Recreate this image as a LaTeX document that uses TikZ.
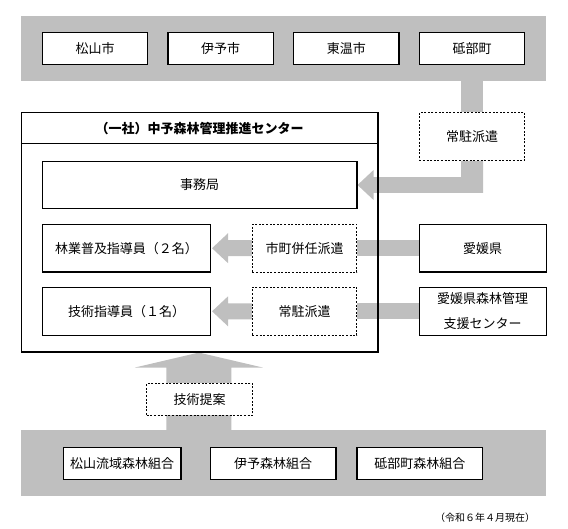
\documentclass[tikz,border=0pt]{standalone}
\usepackage{fontspec}
\setmainfont{Noto Sans CJK JP}
\usetikzlibrary{calc}
\definecolor{bandgray}{RGB}{191,191,191}
\pgfdeclarelayer{bg}
\pgfsetlayers{bg,main}
\tikzset{
  txt/.style={font=\fontsize{13}{16}\selectfont},
  box/.style={draw=black, line width=1.1pt, fill=white, inner sep=0pt, txt},
  dbox/.style={draw=black, line width=1pt, dash pattern=on 2pt off 1.6pt, fill=white, inner sep=0pt, txt},
  bandnode/.style={fill=bandgray, draw=none, inner sep=0pt},
  small/.style={box, minimum width=105.4pt, minimum height=32pt},
  mid/.style={minimum height=48pt},
}
\begin{document}
\begin{tikzpicture}[x=1pt,y=-1pt]
\useasboundingbox (0,0) rectangle (568,529);
\begin{pgfonlayer}{bg}
  \node[bandnode, minimum width=525pt, minimum height=65pt] (cityband) at (283.5,48.5) {};
  \node[bandnode, minimum width=525pt, minimum height=65.5pt] (unionband) at (283.5,463.25) {};
\end{pgfonlayer}

% top cities
\node[small] (matsuyama) at (95,48.3) {松山市};
\node[small] (iyo) at (220.7,48.3) {伊予市};
\node[small] (toon) at (346.3,48.3) {東温市};
\node[small] (tobe) at (472,48.3) {砥部町};

% dispatch box top right
\node[dbox, minimum width=105.4pt, minimum height=48pt] (joukinA) at (472,136.5) {常駐派遣};

% center organization
\node[draw=black, line width=1.1pt, inner sep=0pt, minimum width=356.7pt, minimum height=239.5pt] (center) at (199.65,232.25) {};
\path (center.north west) ++(0,31.5) coordinate (tl);
\draw[line width=1.1pt] (tl) -- (tl -| center.east);
\node[txt, font=\fontsize{13}{16}\selectfont\bfseries] (title) at (199.65,128.3) {（一社）中予森林管理推進センター};

\node[box, minimum width=314.6pt, minimum height=47.3pt] (jimu) at (199.7,185) {事務局};
\node[box, minimum width=168pt, minimum height=47.7pt] (hk) at (126.5,248.2) {林業普及指導員（２名）};
\node[dbox, minimum width=104.5pt, minimum height=47.7pt] (shicho) at (304.7,248.2) {市町併任派遣};
\node[box, minimum width=126.7pt, minimum height=47.7pt] (aiken) at (482.7,248.2) {愛媛県};

\node[box, minimum width=168pt, minimum height=48pt] (gijutsu) at (126.5,311.3) {技術指導員（１名）};
\node[dbox, minimum width=104.5pt, minimum height=48pt] (joukinB) at (304.7,311.3) {常駐派遣};
\node[box, minimum width=126.7pt, minimum height=48pt, align=center, font=\fontsize{13}{25}\selectfont] (shien) at (482.7,311.3) {愛媛県森林管理\\支援センター};

% proposal
\node[dbox, minimum width=106pt, minimum height=32pt] (teian) at (199.7,399.4) {技術提案};

% bottom unions
\node[box, minimum width=117.6pt, minimum height=32pt] (k1) at (122.2,463.2) {松山流域森林組合};
\node[box, minimum width=125.5pt, minimum height=32pt] (k2) at (273.2,463.2) {伊予森林組合};
\node[box, minimum width=125.6pt, minimum height=32pt] (k3) at (419.8,463.2) {砥部町森林組合};

\node[font=\fontsize{10}{12}\selectfont, inner sep=0pt] (note) at (485,518) {（令和６年４月現在）};

% gray connectors
\begin{pgfonlayer}{bg}
  \fill[bandgray] ($(joukinA.north)+(-11,0)$) rectangle ($(joukinA.north |- cityband.south)+(11,0)$);
  \fill[bandgray] let \p1=(jimu.east), \p2=(joukinA.south) in
    (\x1,\y1) -- (\x1+16pt,\y1+15pt) -- (\x1+16pt,\y1+7.8pt) -- (\x2-11pt,\y1+7.8pt)
    -- (\x2-11pt,\y2) -- (\x2+11pt,\y2) -- (\x2+11pt,\y1-7.8pt) -- (\x1+16pt,\y1-7.8pt)
    -- (\x1+16pt,\y1-15pt) -- cycle;
  \fill[bandgray] ($(shicho.east)+(0,-8.3)$) rectangle ($(aiken.west)+(0,8.3)$);
  \fill[bandgray] ($(joukinB.east)+(0,-8)$) rectangle ($(shien.west)+(0,8)$);
  \fill[bandgray] let \p1=($(hk.east)+(1,0)$), \p2=(shicho.west) in
    (\x1,\y1) -- (\x1+16pt,\y1+15pt) -- (\x1+16pt,\y1+8pt) -- (\x2,\y1+8pt)
    -- (\x2,\y1-8pt) -- (\x1+16pt,\y1-8pt) -- (\x1+16pt,\y1-15pt) -- cycle;
  \fill[bandgray] let \p1=($(gijutsu.east)+(1,0)$), \p2=(joukinB.west) in
    (\x1,\y1) -- (\x1+16pt,\y1+15pt) -- (\x1+16pt,\y1+8pt) -- (\x2,\y1+8pt)
    -- (\x2,\y1-8pt) -- (\x1+16pt,\y1-8pt) -- (\x1+16pt,\y1-15pt) -- cycle;
  \fill[bandgray] let \p1=($(center.south)+(-0.8,0)$), \p2=(unionband.north) in
    (\x1,\y1) -- (\x1+64pt,\y1-15pt) -- (\x1+32.5pt,\y1-15pt) -- (\x1+32.5pt,\y2)
    -- (\x1-32.5pt,\y2) -- (\x1-32.5pt,\y1-15pt) -- (\x1-64pt,\y1-15pt) -- cycle;
\end{pgfonlayer}
\end{tikzpicture}
\end{document}
